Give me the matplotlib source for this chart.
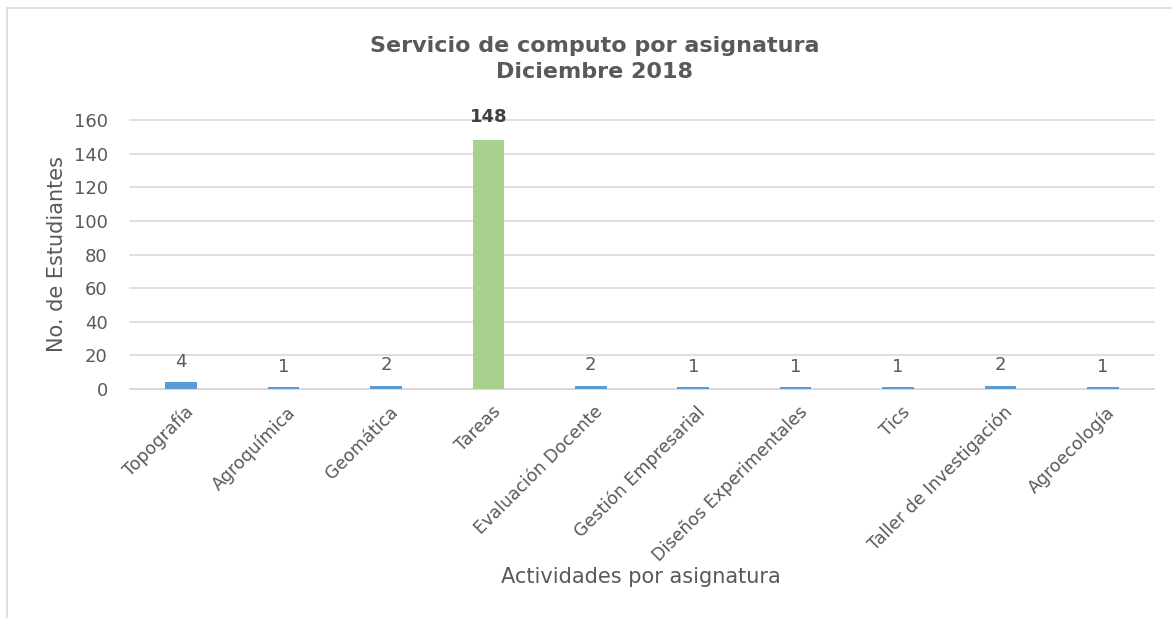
import matplotlib
matplotlib.use("Agg")
import matplotlib.pyplot as plt
from matplotlib.patches import Rectangle
from matplotlib.transforms import ScaledTranslation

categories = ["Topografía", "Agroquímica", "Geomática", "Tareas", "Evaluación Docente",
              "Gestión Empresarial", "Diseños Experimentales", "Tics",
              "Taller de Investigación", "Agroecología"]
values = [4, 1, 2, 148, 2, 1, 1, 1, 2, 1]
yticks = [0, 20, 40, 60, 80, 100, 120, 140, 160]

plt.rcParams['font.family'] = ['DejaVu Sans']
text_color = "#595959"

fig = plt.figure(figsize=(11.72, 6.18), dpi=100)
fig.patches.append(Rectangle((7/1172, -0.01), 1.2, 1 - 8/618 + 0.01, transform=fig.transFigure,
                             fill=False, edgecolor="#d9d9d9", linewidth=1.2))
ax = fig.add_axes([130/1172, 1 - 389/618, (1154 - 130)/1172, (389 - 120)/618])

colors = ["#A9D18E" if v == max(values) else "#5B9BD5" for v in values]
x = list(range(len(categories)))
ax.bar(x, values, width=0.31, color=colors, zorder=3)

ax.set_xlim(-0.5, len(categories) - 0.5)
ax.set_ylim(0, 160)
ax.set_yticks(yticks)
ax.yaxis.grid(True, color="#d9d9d9", linewidth=1.2, zorder=0)
for gl in ax.get_ygridlines():
    gl.set_clip_on(False)
for s in ["top", "right", "left"]:
    ax.spines[s].set_visible(False)
ax.spines["bottom"].set_color("#d9d9d9")
ax.spines["bottom"].set_linewidth(1.2)
ax.tick_params(axis="both", length=0, colors=text_color)
ax.tick_params(axis="y", labelsize=13, pad=16)
ax.set_xticks(x)
ax.set_xticklabels(categories, rotation=45, ha="right", va="top", rotation_mode="anchor",
                   fontsize=12.5, color=text_color)
ax.tick_params(axis="x", pad=10)
off = ScaledTranslation(3/100, 0, fig.dpi_scale_trans)
for lab in ax.get_xticklabels():
    lab.set_transform(lab.get_transform() + off)

for xi, v in zip(x, values):
    if v == max(values):
        ax.annotate(str(v), (xi, v), xytext=(0, 13), textcoords="offset points",
                    ha="center", va="baseline", fontsize=13, fontweight="bold", color="#404040")
    else:
        ax.annotate(str(v), (xi, v), xytext=(0, 11), textcoords="offset points",
                    ha="center", va="baseline", fontsize=13, color=text_color)

ax.set_ylabel("No. de Estudiantes", fontsize=15, color=text_color, labelpad=5)
fig.text(641/1172, 1 - 577/618, "Actividades por asignatura", ha="center", va="center",
         fontsize=15, color=text_color)
fig.text(595/1172, 1 - 59/618, "Servicio de computo por asignatura\nDiciembre 2018",
         ha="center", va="center", fontsize=16, fontweight="bold", color=text_color,
         linespacing=1.4)

fig.savefig("out.png", dpi=100)
